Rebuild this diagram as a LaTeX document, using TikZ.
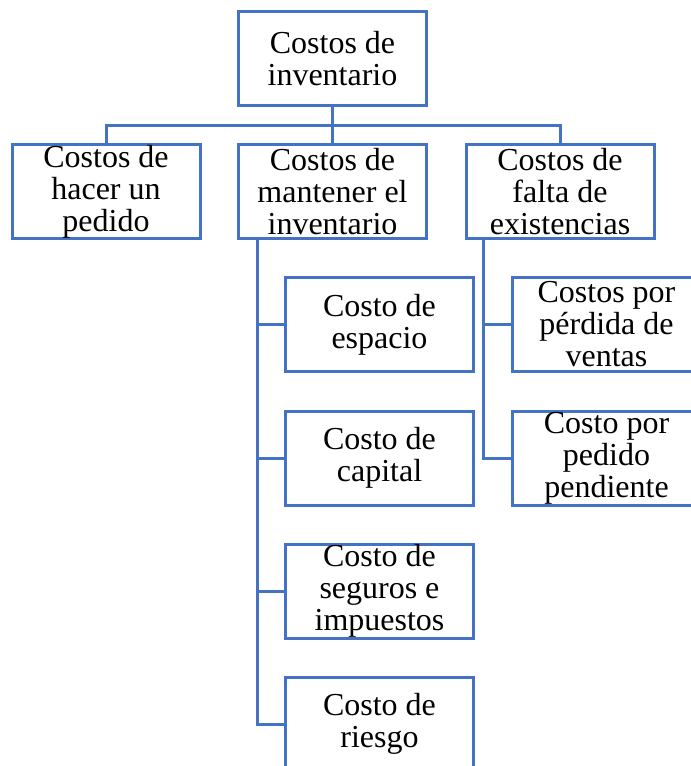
\documentclass[tikz,border=0pt]{standalone}
\usepackage{fontspec}
\setmainfont{Liberation Serif}
\usepackage{tikz}
\usetikzlibrary{positioning}
\definecolor{boxblue}{HTML}{4472C4}

\begin{document}
\begin{tikzpicture}[x=0.5pt,y=-0.5pt,every text node part/.style={align=center},
  box/.style={rectangle,draw=boxblue,fill=white,line width=1.5pt,inner sep=0pt,
    minimum width=94pt,minimum height=47pt,font=\fontsize{16}{16}\selectfont},
  link/.style={draw=boxblue,line width=1.5pt}]
  \useasboundingbox (0,0) rectangle (691,766);
  \node[box] (0) at (332.5,58.5) {Costos de\\inventario};
  \node[box] (1) at (106,191.5) {Costos de\\hacer un\\pedido};
  \node[box] (2) at (332.5,191.5) {Costos de\\mantener el\\inventario};
  \node[box] (3) at (560,191.5) {Costos de\\falta de\\existencias};
  \coordinate (b) at (332.5,125);
  \draw[link] (0.south) -- (b);
  \draw[link] (1.north) |- (b) -| (3.north);
  \draw[link] (2.north) -- (b);
  \node[box] (4) at (379.5,324.5) {Costo de\\espacio};
  \node[box] (5) at (379.5,458) {Costo de\\capital};
  \node[box] (6) at (379.5,591) {Costo de\\seguros e\\impuestos};
  \node[box] (7) at (379.5,724) {Costo de\\riesgo};
  \draw[link] ([xshift=10pt]2.south west) |- (4.west);
  \draw[link] ([xshift=10pt]2.south west) |- (5.west);
  \draw[link] ([xshift=10pt]2.south west) |- (6.west);
  \draw[link] ([xshift=10pt]2.south west) |- (7.west);
  \node[box] (8) at (606.5,324.5) {Costos por\\pérdida de\\ventas};
  \node[box] (9) at (606.5,458) {Costo por\\pedido\\pendiente};
  \draw[link] ([xshift=9.5pt]3.south west) |- (8.west);
  \draw[link] ([xshift=9.5pt]3.south west) |- (9.west);
\end{tikzpicture}
\end{document}
